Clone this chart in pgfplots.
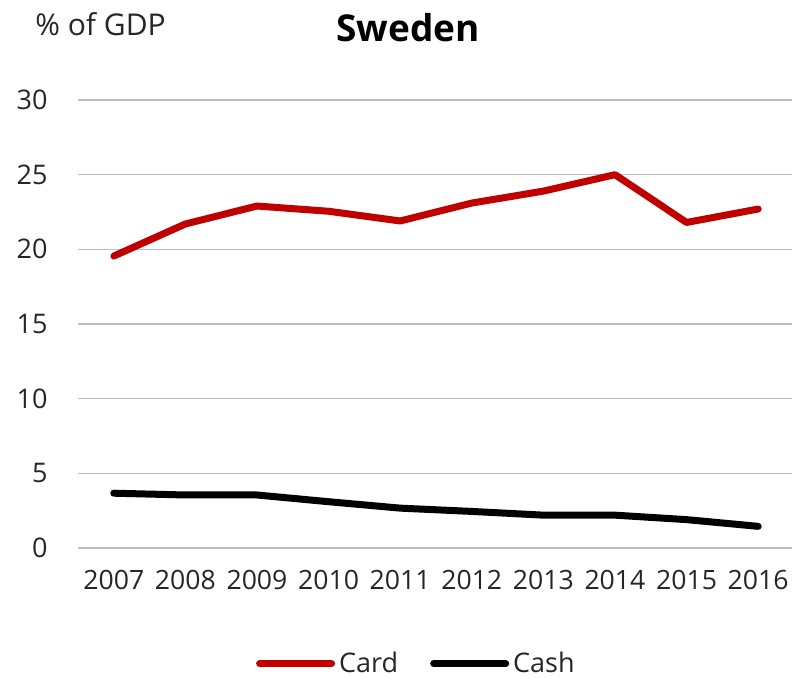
\documentclass[border=0pt]{standalone}
\usepackage{fontspec}
\setmainfont{Open Sans}
\usepackage{pgfplots}
\pgfplotsset{compat=1.18}
\definecolor{cardred}{HTML}{C00000}
\definecolor{txt}{HTML}{262626}
\definecolor{grid}{HTML}{D9D9D9}
\begin{document}
\begin{tikzpicture}
\useasboundingbox (0,0) rectangle (396pt,338.5pt);
\begin{axis}[
  scale only axis,
  width=358pt, height=224pt,
  at={(39pt,64.5pt)}, anchor=south west,
  xmin=2006.5, xmax=2016.5,
  ymin=0, ymax=30,
  ytick={0,5,...,30},
  xtick={2007,...,2016},
  axis line style={draw=none},
  tick style={draw=none},
  major tick length=0pt,
  xmajorgrids=false,
  ymajorgrids=true,
  grid style={grid, line width=0.6pt},
  /pgf/number format/assume math mode=true,
  xticklabel style={/pgf/number format/1000 sep={}, anchor=center, inner sep=0pt, yshift=-16pt, font=\fontsize{13.3}{14}\selectfont, text=txt},
  yticklabel style={anchor=east, inner sep=0pt, xshift=-15pt, font=\fontsize{13.5}{14}\selectfont, text=txt},
  legend style={at={(0.474,-0.258)}, anchor=center, draw=none, fill=none, legend columns=2, font=\fontsize{13.5}{14}\selectfont, text=txt, /tikz/every even column/.append style={column sep=14pt}},
  legend image code/.code={\draw[#1] (0pt,0pt) -- (36pt,0pt);},
]
\addplot[cardred, line width=3.5pt, line join=round, line cap=round] coordinates {
(2007,19.55) (2008,21.7) (2009,22.9) (2010,22.55) (2011,21.9) (2012,23.1) (2013,23.9) (2014,25.0) (2015,21.8) (2016,22.7)};
\addlegendentry{Card}
\addplot[black, line width=3.5pt, line join=round, line cap=round] coordinates {
(2007,3.67) (2008,3.55) (2009,3.55) (2010,3.1) (2011,2.67) (2012,2.45) (2013,2.2) (2014,2.2) (2015,1.9) (2016,1.45)};
\addlegendentry{Cash}
\end{axis}
\node[anchor=west, inner sep=0pt, text=txt, font=\fontsize{15}{16}\selectfont] at (17.5pt,326.5pt) {\% of GDP};
\node[inner sep=0pt, font=\fontsize{18.5}{19}\bfseries\selectfont] at (204pt,324.5pt) {Sweden};
\end{tikzpicture}
\end{document}
